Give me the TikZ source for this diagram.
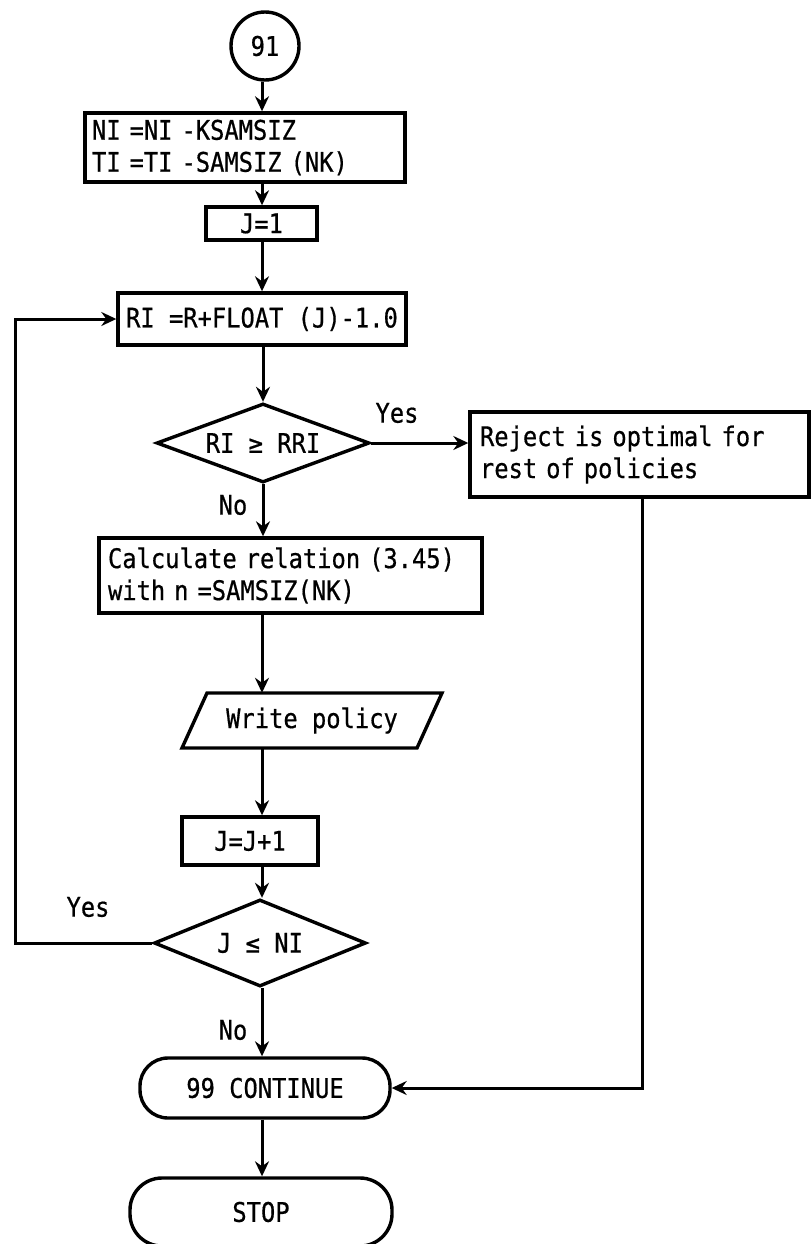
\documentclass[tikz,border=0pt]{standalone}
\usepackage{fontspec}
\setmainfont{DejaVu Sans Mono}[FakeStretch=0.88,FakeBold=0.6]
\usetikzlibrary{shapes.geometric,arrows.meta}
\begin{document}
\begin{tikzpicture}[x=1pt,y=-1pt,
  every node/.style={font=\fontsize{27}{32}\selectfont, inner sep=0pt},
  proc/.style={draw, line width=3.4pt},
  flow/.style={line width=3pt, -{Stealth[length=15pt,width=14pt,inset=5pt]}}]
\useasboundingbox (0,0) rectangle (811,1244);
\coordinate (ax) at (262,0);
\coordinate (lx) at (15,0);
\coordinate (rx) at (642,0);
% nodes
\node[proc, circle, minimum size=68pt] (c91) at (265,46) {91};
\node[proc, minimum width=320pt, minimum height=69pt, text width=306pt, align=left, inner xsep=7pt] (b1) at (245,147.5) {NI =NI -KSAMSIZ\\TI =TI -SAMSIZ (NK)};
\node[proc, minimum width=111pt, minimum height=33pt] (j1) at (261.5,223.5) {J=1};
\node[proc, minimum width=288pt, minimum height=52pt] (ri) at (262,319) {RI =R+FLOAT (J)-1.0};
\node[proc, diamond, aspect=2.7, minimum width=213pt, minimum height=79pt] (d1) at (263,443) {RI ≥ RRI};
\node[proc, minimum width=339pt, minimum height=85pt, text width=319pt, align=left, inner xsep=10pt] (rej) at (639.5,454.5) {Reject is optimal for\\rest of policies};
\node[proc, minimum width=383pt, minimum height=75pt, text width=365pt, align=left, inner xsep=9pt] (calc) at (290.5,575.5) {Calculate relation (3.45)\\with n =SAMSIZ(NK)};
\draw[proc] (207,693) -- (442,693) -- (417,748) -- (182,748) -- cycle;
\node[minimum width=235pt, minimum height=55pt] (wp) at (312,720.5) {Write policy};
\node[proc, minimum width=136pt, minimum height=48pt] (jj) at (250,841) {J=J+1};
\node[proc, diamond, aspect=2.4, minimum width=212pt, minimum height=87pt] (d2) at (260,943) {J ≤ NI};
\node[proc, rounded corners=28pt, minimum width=250pt, minimum height=60pt] (cont) at (265,1088) {99 CONTINUE};
\node[proc, rounded corners=32pt, minimum width=262pt, minimum height=68pt] (stop) at (261,1212) {STOP};
% labels
\node (y1) at (397,413) {Yes};
\node (n1) at (233,505) {No};
\node (y2) at (88,907) {Yes};
\node (n2) at (233,1030) {No};
% connectors
\draw[flow] (c91.south -| ax) -- (b1.north -| ax);
\draw[flow] (b1.south -| ax) -- (j1.north -| ax);
\draw[flow] (j1.south -| ax) -- (ri.north -| ax);
\draw[flow] (ri.south -| d1.north) -- (d1.north);
\draw[flow] (d1.south) -- (calc.north -| d1.south);
\draw[flow] (calc.south -| ax) -- (wp.north -| ax);
\draw[flow] (wp.south -| ax) -- (jj.north -| ax);
\draw[flow] (jj.south -| ax) -- (d2.north -| ax);
\draw[flow] (d2.south -| ax) -- (cont.north -| ax);
\draw[flow] (cont.south -| ax) -- (stop.north -| ax);
\draw[flow] (d1.east) -- (d1.east -| rej.west);
\draw[flow] (rej.south -| rx) |- (cont.east);
\draw[flow] (d2.west) -- (d2.west -| lx) |- (ri.west);
\end{tikzpicture}
\end{document}
